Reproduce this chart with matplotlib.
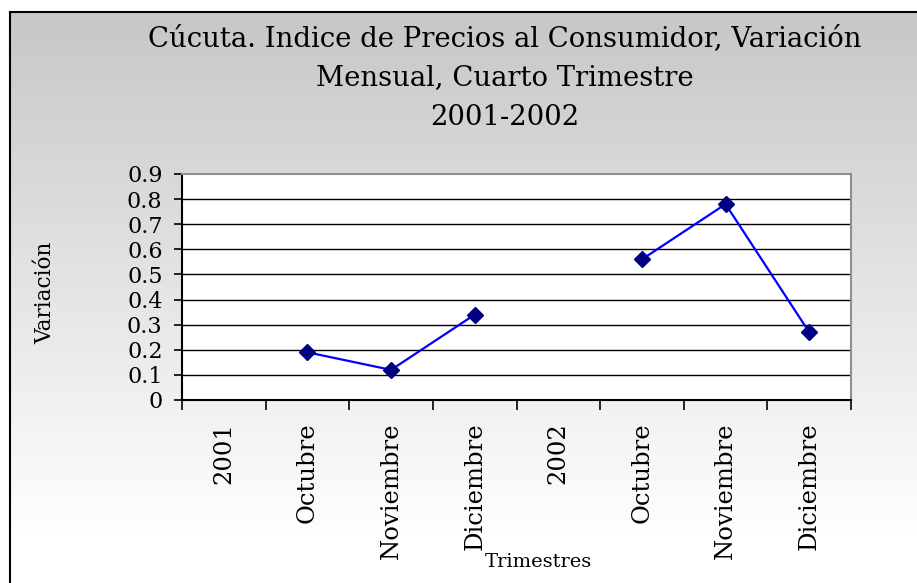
import matplotlib
matplotlib.use("Agg")
import matplotlib.pyplot as plt
import numpy as np

# data
categories = ["2001", "Octubre", "Noviembre", "Diciembre",
              "2002", "Octubre", "Noviembre", "Diciembre"]
variacion = [np.nan, 0.19, 0.12, 0.34, np.nan, 0.56, 0.78, 0.27]
y_ticks = [0, 0.1, 0.2, 0.3, 0.4, 0.5, 0.6, 0.7, 0.8, 0.9]
y_labels = ["0", "0.1", "0.2", "0.3", "0.4", "0.5", "0.6", "0.7", "0.8", "0.9"]

title = "Cúcuta. Indice de Precios al Consumidor, Variación\nMensual, Cuarto Trimestre\n2001-2002"

plt.rcParams["font.family"] = "serif"
plt.rcParams["font.serif"] = ["DejaVu Serif"]

W, H = 917, 583
fig = plt.figure(figsize=(W / 100, H / 100), dpi=100)
fig.patch.set_facecolor("white")

# gray-to-white gradient background with outer frame
bg = fig.add_axes([10 / W, 0, 1 - 10 / W, 1 - 12 / H])
grad = np.concatenate([np.linspace(0.78, 1.0, 256), np.ones(22)])
bg.imshow(np.dstack([grad, grad, grad]).reshape(-1, 1, 3),
          aspect="auto", extent=[0, 1, 0, 1], origin="upper")
bg.set_xticks([])
bg.set_yticks([])
for side in ["right", "bottom"]:
    bg.spines[side].set_visible(False)
for side in ["left", "top"]:
    bg.spines[side].set_linewidth(1.5)
bg.set_zorder(0)

left, right, top, bottom = 182, 851, 174, 400
ax = fig.add_axes([left / W, 1 - bottom / H, (right - left) / W, (bottom - top) / H])
ax.set_zorder(1)
ax.set_facecolor("white")

x = np.arange(len(categories)) + 0.5
ax.plot(x, variacion, color="#0000ff", lw=1.6, marker="D", ms=8,
        mfc="#000080", mec="#000080", zorder=3)

ax.set_xlim(0, len(categories))
ax.set_ylim(0, 0.9)
ax.set_yticks(y_ticks)
ax.set_yticklabels(y_labels, fontsize=16)
ax.set_xticks(np.arange(len(categories) + 1))
ax.set_xticklabels([])
ax.set_xticks(x, minor=True)
ax.set_xticklabels(categories, minor=True, rotation=90, fontsize=17.5)
ax.tick_params(axis="x", which="minor", length=0, pad=16)
ax.tick_params(axis="x", which="major", length=7, width=1.2, direction="out")
ax.tick_params(axis="y", length=6, width=1.2, direction="out", pad=8)

for v in y_ticks[1:-1]:
    ax.axhline(v, color="black", lw=1, zorder=1)

ax.spines["left"].set_linewidth(1.5)
ax.spines["bottom"].set_linewidth(1.5)
ax.spines["top"].set_color("#909090")
ax.spines["right"].set_color("#909090")
ax.spines["top"].set_linewidth(1.5)
ax.spines["right"].set_linewidth(1.5)

fig.text(505 / W, 1 - 78 / H, title, ha="center", va="center",
         fontsize=19.8, linespacing=1.58)
fig.text(538 / W, 1 - 562 / H, "Trimestres", ha="center", va="center",
         fontsize=14)
fig.text(45 / W, 1 - 293 / H, "Variación", ha="center", va="center",
         rotation=90, fontsize=15.5)

fig.savefig("out.png", dpi=100)
